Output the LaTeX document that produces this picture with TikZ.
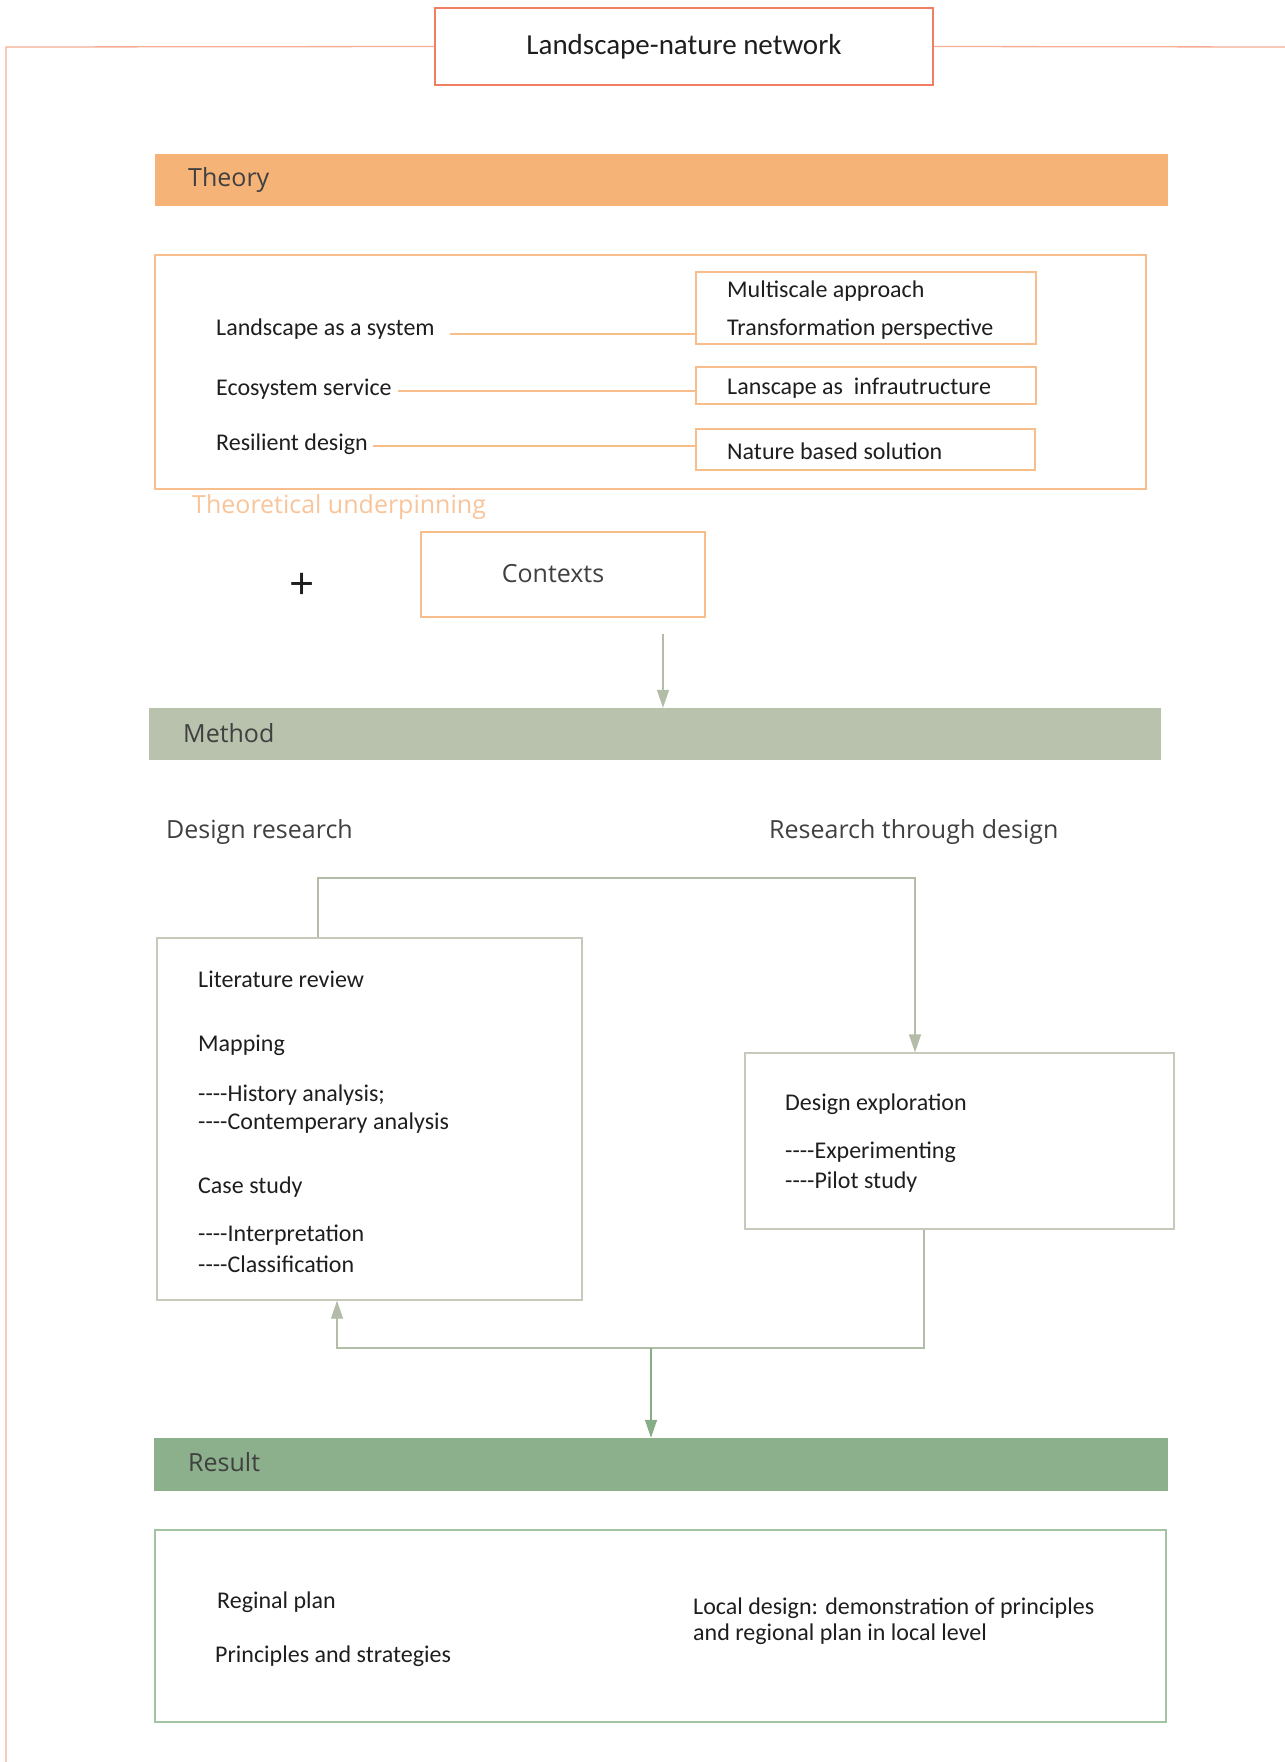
\documentclass[tikz,border=0pt]{standalone}
\usepackage{fontspec}
\setmainfont{Carlito}
\newfontfamily\bfont{Carlito}
\newfontfamily\hfont{Open Sans}
\usetikzlibrary{arrows.meta}
\definecolor{titleRed}{HTML}{EE7F63}
\definecolor{salmon}{HTML}{F6AE94}
\definecolor{orng}{HTML}{F5B378}
\definecolor{orngline}{HTML}{F7BE8C}
\definecolor{lightorng}{HTML}{F8C49A}
\definecolor{methodc}{HTML}{B8C2AD}
\definecolor{mline}{HTML}{C5CABB}
\definecolor{marr}{HTML}{B3BCA6}
\definecolor{resultc}{HTML}{8BB08B}
\definecolor{rline}{HTML}{A3C4A3}
\definecolor{garr}{HTML}{86AD86}
\definecolor{txt}{HTML}{1E1E1E}
\tikzset{
  body/.style={anchor=west, inner sep=0pt, font=\bfont\fontsize{24}{28}\selectfont, text=txt},
  head/.style={anchor=west, inner sep=0pt, font=\hfont\fontsize{25}{30}\selectfont, text=txt!85},
  bar/.style={draw=none, inner sep=0pt},
  obox/.style={draw=orngline, line width=1.3pt, inner sep=0pt},
  mbox/.style={draw=mline, line width=1.3pt, inner sep=0pt},
  oline/.style={draw=orngline, line width=1.3pt},
  mconn/.style={draw=marr, line width=1.3pt, -{Triangle[length=18pt,width=12pt]}},
  gconn/.style={draw=garr, line width=1.3pt, -{Triangle[length=18pt,width=12pt]}},
}
\begin{document}
\begin{tikzpicture}[x=1pt,y=-1pt]
\useasboundingbox (0,0) rectangle (1285,1762);
% title
\node[draw=titleRed, line width=1.3pt, minimum width=498pt, minimum height=77pt, inner sep=0pt,
      font=\bfont\fontsize{29}{34}\selectfont, text=txt] (title) at (684,46.5) {Landscape-nature network};
\coordinate (tl) at (6,47);
\coordinate (tr) at (1285,47);
\coordinate (tb) at (6,1762);
\draw[salmon, line width=1.3pt] (title.west) -- (tl) -- (tb);
\draw[salmon, line width=1.3pt] (title.east) -- (tr);

% theory
\node[bar, fill=orng, minimum width=1013pt, minimum height=52pt] (theorybar) at (661.5,180) {};
\node[head] (theorylbl) at (188,180) {Theory};
\node[obox, line width=1.5pt, minimum width=991pt, minimum height=234pt] (theorybox) at (650.5,372) {};
\node[obox, minimum width=340pt, minimum height=72pt] (b1) at (866,308) {};
\node[obox, minimum width=340pt, minimum height=37pt] (b2) at (866,385.5) {};
\node[obox, minimum width=339pt, minimum height=41pt] (b3) at (865.5,449.5) {};
\node[body] (b1a) at (727,291) {Multiscale approach};
\node[body] (b1b) at (727,329) {Transformation perspective};
\node[body] (b2a) at (727,388) {Lanscape as\ \ infrautructure};
\node[body] (b3a) at (727,451) {Nature based solution};
\node[body] (ls) at (216,329) {Landscape as a system};
\node[body] (es) at (216,389) {Ecosystem service};
\node[body] (rd) at (216,444) {Resilient design};
\coordinate (l1) at (450,334);
\coordinate (l2) at (398,391);
\coordinate (l3) at (373,446);
\draw[oline] (l1) -- (l1 -| b1.west);
\draw[oline] (l2) -- (l2 -| b2.west);
\draw[oline] (l3) -- (l3 -| b3.west);
\node[head, text=lightorng] (tu) at (192,507) {Theoretical underpinning};

% contexts
\node[inner sep=0pt, font=\hfont\fontsize{44}{48}\selectfont, text=txt] (plus) at (302,586) {+};
\node[obox, minimum width=284pt, minimum height=85pt] (ctx) at (563,574.5) {};
\node[inner sep=0pt, font=\hfont\fontsize{25}{30}\selectfont, text=txt!85] (ctxlbl) at (553,574) {Contexts};
\coordinate (ca) at (663,634);

% method
\node[bar, fill=methodc, minimum width=1012pt, minimum height=52pt] (method) at (655,734) {};
\node[head] (methodlbl) at (183,733) {Method};
\draw[mconn] (ca) -- (ca |- method.north);
\node[head] (dr) at (166,832) {Design research};
\node[head] (rtd) at (769,832) {Research through design};

\node[mbox, minimum width=425pt, minimum height=362pt] (lb) at (369.5,1119) {};
\node[body] (t1) at (198,979) {Literature review};
\node[body] (t2) at (198,1045) {Mapping};
\node[body] (t3) at (198,1095) {----History analysis;};
\node[body] (t4) at (198,1123) {----Contemperary analysis};
\node[body] (t5) at (198,1187) {Case study};
\node[body] (t6) at (198,1235) {----Interpretation};
\node[body] (t7) at (198,1264) {----Classification};

\node[mbox, minimum width=429pt, minimum height=176pt] (rb) at (959.5,1141) {};
\node[body] (r1) at (785,1104) {Design exploration};
\node[body] (r2) at (785,1152) {----Experimenting};
\node[body] (r3) at (785,1182) {----Pilot study};

\coordinate (c1) at (318,878);
\coordinate (c2) at (915,878);
\draw[mconn] (c1 |- lb.north) -- (c1) -- (c2) -- (c2 |- rb.north);
\coordinate (c3) at (924,1348);
\coordinate (c4) at (337,1348);
\draw[mconn] (c3 |- rb.south) -- (c3) -- (c4) -- (c4 |- lb.south);
\coordinate (c5) at (651,1348);

% result
\node[bar, fill=resultc, minimum width=1014pt, minimum height=53pt] (result) at (661,1464.5) {};
\node[head] (resultlbl) at (188,1462) {Result};
\draw[gconn] (c5) -- (c5 |- result.north);
\node[draw=rline, line width=1.3pt, inner sep=0pt, minimum width=1011pt, minimum height=192pt] (rbox) at (660.5,1626) {};
\node[body] (p1) at (217,1602) {Reginal plan};
\node[body] (p2) at (215,1656) {Principles and strategies};
\node[body] (p3) at (693,1608) {Local design: demonstration of principles};
\node[body] (p4) at (693,1634) {and regional plan in local level};
\end{tikzpicture}
\end{document}
